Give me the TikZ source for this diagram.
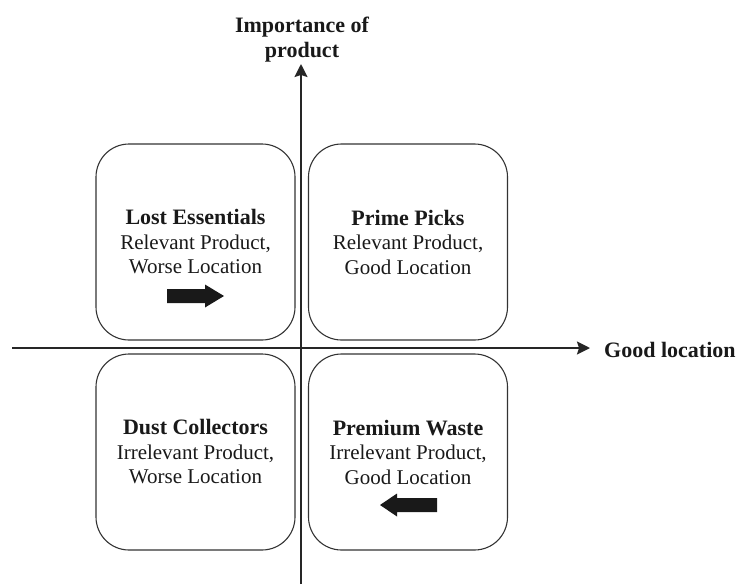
\documentclass[tikz,border=0pt]{standalone}
\usepackage{fontspec}
\setmainfont{Liberation Serif}
\usepackage{tikz}
\usetikzlibrary{arrows.meta,positioning,calc}

\tikzset{
quad/.style={draw=black!80,line width=1.1pt,rounded corners=33pt,minimum width=199pt,minimum height=196pt,align=center,font=\fontsize{21}{24.5}\selectfont,text=black!90},
axis/.style={draw=black!85,line width=2pt,-{Stealth[length=13pt,width=13pt,inset=2pt]}},
fatarrow/.style={fill=black!90}
}
\newcommand{\qtitle}[1]{{\fontsize{22}{24.5}\selectfont\bfseries #1}}

\begin{document}
\begin{tikzpicture}[x=1pt,y=-1pt]
\useasboundingbox (0,0) rectangle (736,584);
\coordinate (S) at (301,584);
\coordinate (N) at (301,64);
\coordinate (W) at (12,348);
\coordinate (E) at (590,348);
\draw[axis] (S) -- (N);
\draw[axis] (W) -- (E);
\node[font=\fontsize{22}{25}\selectfont\bfseries,align=center,text=black!90,anchor=south,inner sep=2pt] (imp) at (302,64) {Importance of\\product};
\node[font=\fontsize{22}{24}\selectfont\bfseries,text=black!90,anchor=west,inner sep=0pt] (good) at (604,350) {Good location};
\node[quad] (lost) at (195.5,242) {\qtitle{Lost Essentials}\\Relevant Product,\\Worse Location};
\node[quad] (prime) at (408,242) {\qtitle{Prime Picks}\\Relevant Product,\\Good Location};
\node[quad] (dust) at (195.5,452) {\qtitle{Dust Collectors}\\Irrelevant Product,\\Worse Location};
\node[quad] (waste) at (408,452) {\qtitle{Premium Waste}\\Irrelevant Product,\\Good Location};
% move arrows
\coordinate (r) at (195.5,296);
\coordinate (l) at (408.5,505);
\fill[fatarrow] ($(r)+(-28.5,-7)$) -- ++(38,0) -- ++(0,-4.5) -- ++(19,11.5) -- ++(-19,11.5) -- ++(0,-4.5) -- ++(-38,0) -- cycle;
\fill[fatarrow] ($(l)+(28.5,-7)$) -- ++(-40,0) -- ++(0,-4.5) -- ++(-17,11.5) -- ++(17,11.5) -- ++(0,-4.5) -- ++(40,0) -- cycle;
\end{tikzpicture}
\end{document}
